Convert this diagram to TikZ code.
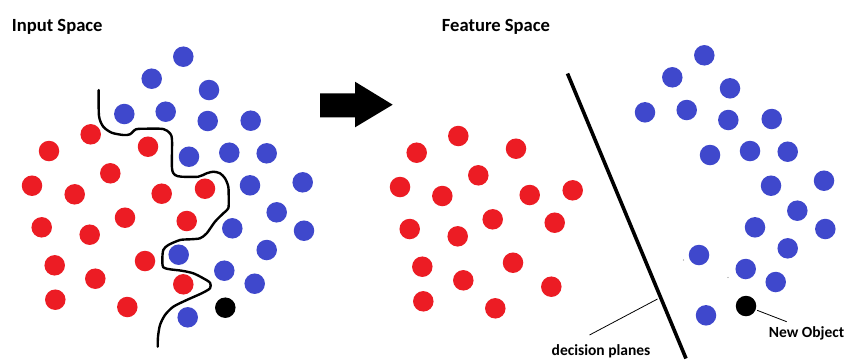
\documentclass[tikz,border=0pt]{standalone}
\usepackage{fontspec}
\setmainfont{Carlito}
\definecolor{pred}{HTML}{EC1C24}
\definecolor{pblue}{HTML}{3F48CC}
\tikzset{
  dot/.style={circle, inner sep=0pt, minimum size=20.5pt},
  reddot/.style={dot, fill=pred},
  bluedot/.style={dot, fill=pblue},
  blackdot/.style={dot, fill=black},
  speck/.style={circle, inner sep=0pt, minimum size=1.4pt, fill=black!45},
  title/.style={font=\fontsize{18.6}{20}\selectfont\bfseries, anchor=base west, inner sep=0pt},
  lbl/.style={font=\fontsize{15.5}{17}\selectfont\bfseries, inner sep=0pt},
  leader/.style={draw=black, line width=0.8pt},
}
\begin{document}
\begin{tikzpicture}[x=1pt,y=-1pt]
\useasboundingbox[fill=white] (0,0) rectangle (845,360);
% titles
\node[title] (t1) at (11.7,31) {Input Space};
\node[title] (t2) at (441.7,31) {Feature Space};
% arrow
\fill[black] (320,93.3) -- (355,93.3) -- (355,81.7) -- (392.7,104.7) -- (355,127.3) -- (355,117.3) -- (320,117.3) -- cycle;
% left red
\foreach \i/\x/\y in {1/90.7/134.3, 2/49/151, 3/148/146.7, 4/110.3/173.3, 5/32/185.7, 6/74.7/194.3, 7/161.7/193.7, 8/205/188.7, 9/125/217.7, 10/186.7/221, 11/41.7/227.3, 12/89.7/234.7, 13/54.7/265.3, 14/145/261, 15/95.3/278.7, 16/183.3/284.3, 17/55.3/299.7, 18/127.3/307}
  \node[reddot] (lr\i) at (\x,\y) {};
% left blue
\foreach \i/\x/\y in {1/183.3/56.7, 2/151.7/78.7, 3/209/90, 4/124.3/114, 5/165.7/111.7, 6/207.7/121, 7/250.7/120.7, 8/189/156.7, 9/229.3/152.7, 10/266.7/153.3, 11/250/185.3, 12/302.7/182.3, 13/276.7/212.3, 14/232.3/228.3, 15/304/230.7, 16/178.7/254.7, 17/266.7/250, 18/224.3/270.7, 19/254.7/283.7, 20/187.7/317.3}
  \node[bluedot] (lb\i) at (\x,\y) {};
\node[blackdot] (lobj) at (225.3,307.7) {};
% wavy boundary
\draw[line width=2.4pt, line join=round, line cap=round] plot[smooth, tension=0.45] coordinates {
(98.7,90) (99,116) (103.3,126.7) (111.7,132.7) (123.3,135) (130,134.3) (136,129.3) (146.7,128.7) (163.3,129) (170,133.3) (172,140) (172,168.3) (175,175) (181.7,176.7) (198.3,176.7) (206.7,173.3) (213.3,171.7) (220,173.3) (225,178.3) (228.3,186.7) (228.7,198.3) (228.3,208.3) (223.3,213.3) (215,221.7) (206.7,233.3) (200,238.3) (190,239.3) (180,240) (168.3,245) (163.3,250) (162.3,260) (163.3,267.3) (170,269.3) (181.7,270.7) (193.3,273.3) (203.3,278.3) (210,282.7) (210,288.3) (201.7,293.3) (186.7,300) (173.3,306.7) (165,315) (160,325) (158,336.7) (157.7,346.7)};
% right red
\foreach \i/\x/\y in {1/458.3/136, 2/416.7/152.7, 3/516/148.7, 4/478.3/175.3, 5/400/187, 6/442.3/196, 7/529.7/195, 8/572.7/190.3, 9/492.7/219.3, 10/554.7/222.7, 11/409.7/229, 12/457.7/236.3, 13/422.3/266.7, 14/513/262.7, 15/463.3/280.3, 16/551.3/286.7, 17/423.3/301.3, 18/495.3/308.3}
  \node[reddot] (rr\i) at (\x,\y) {};
% right blue
\foreach \i/\x/\y in {1/704.3/55.3, 2/672.3/77.3, 3/730/88.3, 4/645/112.3, 5/686.7/110, 6/728.3/120, 7/771.7/119, 8/710/155, 9/750/151, 10/787.7/151.7, 11/771/185.7, 12/824/180.7, 13/797.3/210.7, 14/755/227.3, 15/825.3/229, 16/699/255, 17/787.7/248.3, 18/745.7/269, 19/775.7/282, 20/706/315.3}
  \node[bluedot] (rb\i) at (\x,\y) {};
\node[blackdot] (robj) at (746,306) {};
\node[speck] (s1) at (683.5,260) {};
\node[speck] (s2) at (728,277.5) {};
% decision plane
\coordinate (pt) at (567.5,73.5);
\coordinate (pb) at (686,358.5);
\draw[line width=3.6pt] (pt) -- (pb);
\coordinate (dp) at (657.5,299);
% labels
\node[lbl] (dpl) at (601,351) {decision planes};
\node[lbl] (nol) at (806.5,333) {New Object};
\coordinate (dpe) at (589.5,335);
\coordinate (noe) at (786.7,321.7);
\draw[leader] (dp) -- (dpe);
\draw[leader, shorten <=1.5pt] (robj) -- (noe);
\end{tikzpicture}
\end{document}
